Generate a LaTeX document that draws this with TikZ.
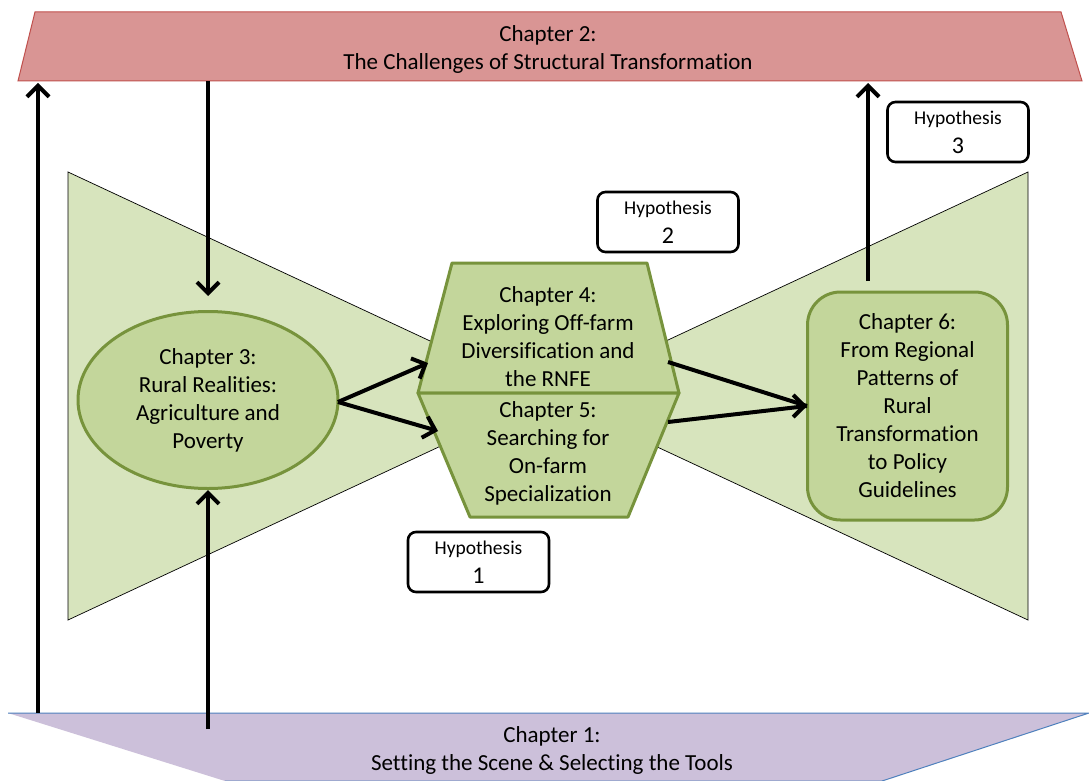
\documentclass[tikz,border=0pt]{standalone}
\usepackage{fontspec}
\setmainfont{Carlito}[Ligatures={NoCommon}]
\usetikzlibrary{arrows.meta,calc,shapes.geometric}
\definecolor{bowfill}{HTML}{D7E4BD}
\definecolor{shapefill}{HTML}{C3D69B}
\definecolor{shapeline}{HTML}{77933C}
\definecolor{redfill}{HTML}{D99594}
\definecolor{redline}{HTML}{C0504D}
\definecolor{purfill}{HTML}{CCC0DA}
\definecolor{purline}{HTML}{4F81BD}
\begin{document}
\begin{tikzpicture}[x=1pt,y=-1pt,
  chtext/.style={align=center,font=\fontsize{23}{28}\selectfont,inner sep=0pt},
  bantext/.style={align=center,font=\fontsize{23}{28}\selectfont,inner sep=0pt},
  greenshape/.style={fill=shapefill,draw=shapeline,line width=3pt,line join=round},
  hypbox/.style={draw=black,line width=2.6pt,rounded corners=8pt,fill=white,
    minimum width=141pt,minimum height=60pt,inner sep=0pt,align=center,
    font=\fontsize{24}{29}\selectfont},
  conn/.style={line width=4pt,-{Straight Barb[length=11pt,width=22pt]}},
  plainconn/.style={line width=4pt}]
\useasboundingbox (0,0) rectangle (1089,781);
\fill[white] (0,0) rectangle (1089,781);
% bowtie
\filldraw[fill=bowfill,draw=black,line width=0.7pt] (68,172) -- (68,620) -- (548,396) -- cycle;
\filldraw[fill=bowfill,draw=black,line width=0.7pt] (1028,172) -- (1028,620) -- (548,396) -- cycle;
% top banner
\filldraw[fill=redfill,draw=redline,line width=1pt] (35,12) -- (1061,12) -- (1082,81) -- (18,81) -- cycle;
\node[bantext] (ch2) at (548,49) {Chapter 2:\\The Challenges of Structural Transformation};
% bottom banner
\filldraw[fill=purfill,draw=purline,line width=1pt] (8,713) -- (1089,713) -- (882,781) -- (225,781);
\node[bantext] (ch1) at (552,750) {Chapter 1:\\Setting the Scene \& Selecting the Tools};
% chapter 4 and 5 hexagon halves
\filldraw[greenshape] (452,263) -- (647,263) -- (679,393) -- (418,393) -- cycle;
\filldraw[greenshape] (418,393) -- (679,393) -- (628,517) -- (470,517) -- cycle;
\node[chtext] (ch4) at (548,337) {Chapter 4:\\Exploring Off-farm\\Diversification and\\the RNFE};
\node[chtext] (ch5) at (548,453) {Chapter 5:\\Searching for\\On-farm\\Specialization};
% chapter 3 ellipse
\node[ellipse,greenshape,minimum width=260pt,minimum height=177pt,inner sep=0pt,
  chtext] (ch3) at (208,400) {Chapter 3:\\Rural Realities:\\Agriculture and\\Poverty};
% chapter 6
\node[greenshape,rounded corners=33pt,minimum width=200pt,minimum height=228pt,
  chtext] (ch6) at (907.5,406) {Chapter 6:\\From Regional\\Patterns of\\Rural\\Transformation\\to Policy\\Guidelines};
% hypotheses
\node[hypbox] (h1) at (478.5,562) {{\fontsize{19.5}{22}\selectfont Hypothesis}\\1};
\node[hypbox] (h2) at (668,222) {{\fontsize{19.5}{22}\selectfont Hypothesis}\\2};
\node[hypbox] (h3) at (958,132) {{\fontsize{19.5}{22}\selectfont Hypothesis}\\3};
% connector end points
\coordinate (ch1a) at (38,713);
\coordinate (ch2a) at (38,83);
\coordinate (ch2b) at (208,81);
\coordinate (ch3top) at (208,296);
\coordinate (ch1b) at (208,729);
\coordinate (ch3out) at (338,402);
\coordinate (ch4in) at (428,363);
\coordinate (ch5in) at (438,431);
\coordinate (ch4out) at (668,362);
\coordinate (ch5out) at (668,422);
\coordinate (ch6in) at (807,406);
\coordinate (ch6top) at (868,281);
\coordinate (ch2c) at (868,83);
% connectors
\draw[conn] (ch1a) -- (ch2a);
\draw[conn] (ch2b) -- (ch3top);
\draw[conn] (ch1b) -- (ch3.south);
\draw[conn] (ch3out) -- (ch4in);
\draw[conn] (ch3out) -- (ch5in);
\draw[plainconn] (ch4out) -- (ch6in);
\draw[plainconn] (ch5out) -- (ch6in);
\draw[conn] ($(ch6in)+(-2,0)$) -- (ch6in);
\draw[conn] (ch6top) -- (ch2c);
\end{tikzpicture}
\end{document}
